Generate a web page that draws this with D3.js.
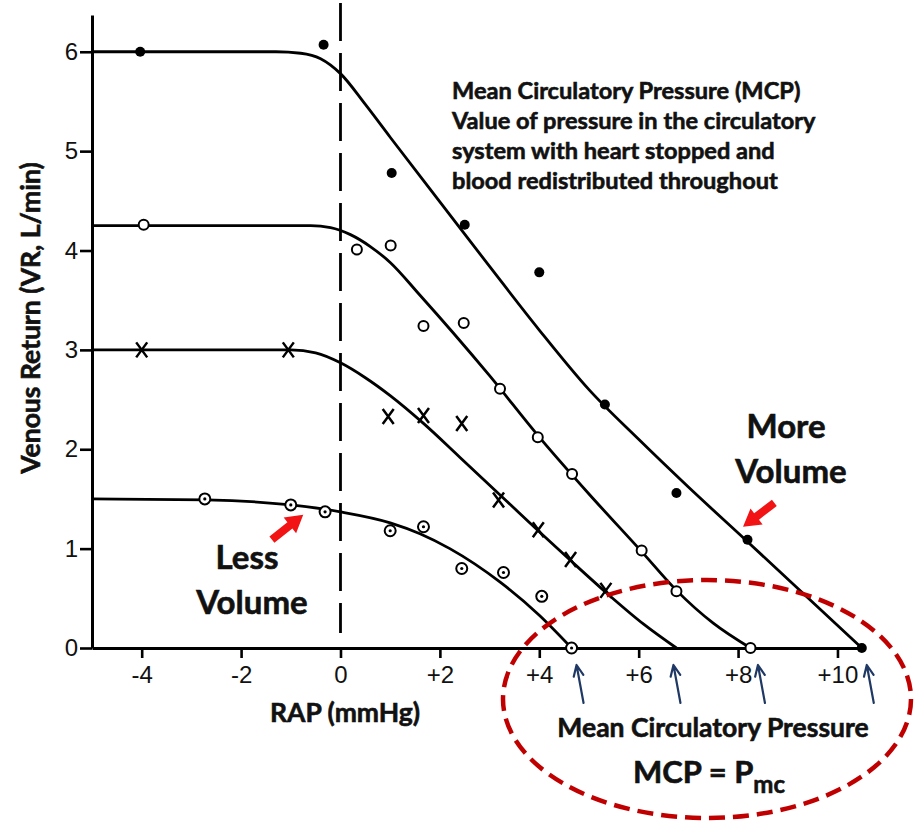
<!DOCTYPE html>
<html>
<head>
<meta charset="utf-8">
<script src="https://cdn.jsdelivr.net/npm/d3@7"></script>
<style>
body{margin:0;background:#fff}
svg{display:block;background:#fff}
.ann{font-family:Lato,'Open Sans',sans-serif;font-weight:bold;fill:#111;stroke:#111;stroke-width:0.6px;paint-order:stroke}
</style>
</head>
<body>
<svg width="914" height="822"></svg>
<script>
// measured points, [RAP mmHg, VR L/min]
const filledDots = [[-4.03,6],[-0.34,6.07],[1.03,4.78],[2.5,4.26],[4.0,3.78],[5.32,2.45],[6.76,1.56],[8.19,1.09],[10.49,0]]
const openDots = [[-3.96,4.26],[0.33,4.01],[1.01,4.05],[1.67,3.24],[2.48,3.27],[3.21,2.61],[3.97,2.12],[4.66,1.75],[6.06,0.98],[6.76,0.57],[8.25,0]]
const crossDots = [[-4,3],[-1.05,3],[0.96,2.33],[1.67,2.34],[2.44,2.26],[3.18,1.49],[3.98,1.19],[4.63,0.89],[5.34,0.58]]
const ringDots = [[-2.73,1.5],[-1.0,1.44],[-0.31,1.37],[1.0,1.18],[1.67,1.22],[2.44,0.8],[3.28,0.76],[4.05,0.52],[4.65,0]]

// hand drawn fitted curves
const curveMore = [[-5,6],[-1.3,6],[-0.8,5.985],[-0.4,5.93],[0,5.78],[0.5,5.47],[1,5.14],[2,4.49],[3,3.84],[4,3.2],[5,2.6],[6,2.1],[7,1.62],[8.19,1.07],[10.49,0]]
const curveOpen = [[-5,4.25],[-0.6,4.25],[-0.2,4.23],[0.2,4.16],[0.6,4.04],[1,3.88],[1.6,3.55],[2.27,3.17],[3,2.74],[3.97,2.14],[5,1.55],[6.06,0.97],[6.76,0.58],[7.5,0.25],[8.25,0]]
const curveCross = [[-5,3],[-1,3],[-0.5,2.97],[0,2.87],[0.5,2.72],[1,2.54],[1.67,2.26],[2.4,1.92],[3.34,1.48],[4,1.17],[4.63,0.88],[5.34,0.56],[6.1,0.24],[6.76,0]]
const curveLess = [[-5,1.5],[-2.7,1.49],[-1,1.44],[0,1.37],[1,1.26],[1.6,1.15],[2.2,1.0],[3.22,0.66],[4,0.33],[4.65,0]]

const mcpArrows = [4.75, 6.70, 8.40, 10.59]

const xTicks = [-4,-2,0,2,4,6,8,10]
const xTickLabels = ["-4","-2","0","+2","+4","+6","+8","+10"]
const yTicks = [0,1,2,3,4,5,6]

const infoLines = ["Mean Circulatory Pressure (MCP)","Value of pressure in the circulatory","system with heart stopped and","blood redistributed throughout"]

const svg = d3.select("svg")
const tickFont = "'Liberation Sans', Arial, sans-serif"

const x = d3.scaleLinear().domain([-5,10.55]).range([92,864.8])
const y = d3.scaleLinear().domain([0,6.37]).range([648,15])

// dashed zero line
svg.append("line")
    .attr("x1", x(0)).attr("x2", x(0))
    .attr("y1", 3).attr("y2", y(0.15))
    .attr("stroke","#000").attr("stroke-width",2.8)
    .attr("stroke-dasharray","38,12")

// axes
const xAxis = svg.append("g")
    .attr("transform",`translate(0,${y(0)})`)
    .call(d3.axisBottom(x).tickValues(xTicks).tickFormat((d,i)=>xTickLabels[i]).tickSize(10).tickSizeOuter(0).tickPadding(8))
const yAxis = svg.append("g")
    .attr("transform",`translate(${x(-5)},0)`)
    .call(d3.axisLeft(y).tickValues(yTicks).tickFormat(d3.format("d")).tickSize(12).tickSizeOuter(0).tickPadding(2))

;[xAxis,yAxis].forEach(g=>{
    g.select(".domain").attr("stroke","#000").attr("stroke-width",3)
    g.selectAll(".tick line").attr("stroke","#000").attr("stroke-width",2.6)
    g.selectAll(".tick text").attr("fill","#111").style("font-family",tickFont).style("font-size","24px")
})

// curves
const line = d3.line().x(d=>x(d[0])).y(d=>y(d[1])).curve(d3.curveMonotoneX)
;[curveMore,curveOpen,curveCross,curveLess].forEach(c=>{
    svg.append("path").attr("d",line(c))
        .attr("fill","none").attr("stroke","#000").attr("stroke-width",2.8)
        .attr("stroke-linejoin","round")
})

// markers
svg.append("g").selectAll("circle").data(filledDots).join("circle")
    .attr("cx",d=>x(d[0])).attr("cy",d=>y(d[1])).attr("r",5).attr("fill","#000")

svg.append("g").selectAll("circle").data(openDots).join("circle")
    .attr("cx",d=>x(d[0])).attr("cy",d=>y(d[1])).attr("r",5)
    .attr("fill","#fff").attr("stroke","#000").attr("stroke-width",2)

const rings = svg.append("g").selectAll("g").data(ringDots).join("g")
    .attr("transform",d=>`translate(${x(d[0])},${y(d[1])})`)
rings.append("circle").attr("r",5.5).attr("fill","#fff").attr("stroke","#000").attr("stroke-width",2)
rings.append("circle").attr("r",1.6).attr("fill","#000")

svg.append("g").selectAll("path").data(crossDots).join("path")
    .attr("d",d=>{
        const cx = x(d[0]), cy = y(d[1])
        return `M${cx-5.5},${cy-7.5}L${cx+5.5},${cy+7.5}M${cx+5.5},${cy-7.5}L${cx-5.5},${cy+7.5}`
    })
    .attr("stroke","#000").attr("stroke-width",2.5).attr("fill","none")

// axis titles
svg.append("text").attr("class","ann")
    .attr("transform",`translate(40,318) rotate(-90)`)
    .attr("text-anchor","middle")
    .style("font-size","26.5px")
    .text("Venous Return (VR, L/min)")

svg.append("text").attr("class","ann")
    .attr("x",345).attr("y",722)
    .attr("text-anchor","middle")
    .style("font-size","26.5px")
    .text("RAP (mmHg)")

// info block
svg.append("g").selectAll("text").data(infoLines).join("text")
    .attr("class","ann")
    .attr("x",452).attr("y",(d,i)=>99+i*30)
    .style("font-size","23.6px")
    .text(d=>d)

// Less / More volume labels
function bigLabel(lines, cx, y0){
    svg.append("g").selectAll("text").data(lines).join("text")
        .attr("class","ann")
        .attr("x",(d,i)=>cx+i*5).attr("y",(d,i)=>y0+i*44.5)
        .attr("text-anchor","middle")
        .style("font-size","33px")
        .text(d=>d)
}
bigLabel(["Less","Volume"],247,569)
bigLabel(["More","Volume"],786,438)

// red block arrows (tail -> tip in data units)
function redArrow(from, to){
    const x0 = x(from[0]), y0 = y(from[1]), x1 = x(to[0]), y1 = y(to[1])
    const len = Math.hypot(x1-x0,y1-y0)
    const ang = Math.atan2(y1-y0,x1-x0)*180/Math.PI
    const h = 17
    svg.append("path")
        .attr("d",`M0,-4L${len-h},-4L${len-h},-10L${len},0L${len-h},10L${len-h},4L0,4Z`)
        .attr("transform",`translate(${x0},${y0}) rotate(${ang})`)
        .attr("fill","#f21414")
}
redArrow([-1.38,1.09],[-0.75,1.34])
redArrow([8.73,1.46],[8.1,1.22])

// MCP arrows under the axis
const navy = "#1f3864"
mcpArrows.forEach(v=>{
    const tx = x(v), ty = 665, bx = tx+7, by = 703
    const ang = Math.atan2(ty-by,tx-bx)
    const a1 = ang+Math.PI-0.42, a2 = ang+Math.PI+0.42
    svg.append("path")
        .attr("d",`M${bx},${by}L${tx},${ty}M${tx+12*Math.cos(a1)},${ty+12*Math.sin(a1)}L${tx},${ty}L${tx+12*Math.cos(a2)},${ty+12*Math.sin(a2)}`)
        .attr("stroke",navy).attr("stroke-width",2.2).attr("fill","none")
        .attr("stroke-linecap","round").attr("stroke-linejoin","round")
})

// dashed ellipse and its text
svg.append("ellipse")
    .attr("cx",707).attr("cy",699).attr("rx",204).attr("ry",119)
    .attr("fill","none").attr("stroke","#c00000").attr("stroke-width",4.5)
    .attr("stroke-dasharray","16,8")

svg.append("text").attr("class","ann")
    .attr("x",713).attr("y",737)
    .attr("text-anchor","middle")
    .style("font-size","26.5px")
    .text("Mean Circulatory Pressure")

const mcp = svg.append("text").attr("class","ann")
    .attr("x",633).attr("y",783)
    .style("font-size","31px")
mcp.append("tspan").text("MCP = P")
mcp.append("tspan").attr("dy",10).style("font-size","24px").text("mc")
</script>
</body>
</html>
